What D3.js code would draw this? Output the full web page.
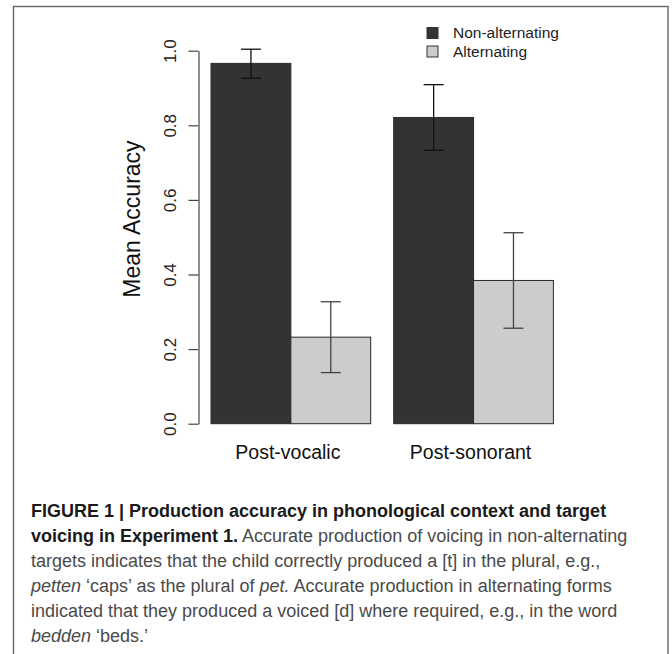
<!DOCTYPE html>
<html>
<head>
<meta charset="utf-8">
<script src="https://cdn.jsdelivr.net/npm/d3@7"></script>
<style>
  body { margin: 0; background: #fff; }
  svg text { font-family: "Liberation Sans", Arial, Helvetica, sans-serif; }
</style>
</head>
<body>
<div id="chart"></div>
<script>

// data
const categories = ["Post-vocalic", "Post-sonorant"];
const series = ["Non-alternating", "Alternating"];
const nonAlternating = [0.966, 0.821];
const alternating = [0.232, 0.384];
const nonAltLower = [0.926, 0.733];
const nonAltUpper = [1.004, 0.909];
const altLower = [0.137, 0.256];
const altUpper = [0.327, 0.512];
const yTicks = [0, 0.2, 0.4, 0.6, 0.8, 1.0];

const captionLines = [
    [{ t: "FIGURE 1 | Production accuracy in phonological context and target", s: "b" }],
    [{ t: "voicing in Experiment 1.", s: "b" }, { t: " Accurate production of voicing in non-alternating", s: "n" }],
    [{ t: "targets indicates that the child correctly produced a [t] in the plural, e.g.,", s: "n" }],
    [{ t: "petten", s: "i" }, { t: " \u2018caps\u2019 as the plural of ", s: "n" }, { t: "pet.", s: "i" }, { t: " Accurate production in alternating forms", s: "n" }],
    [{ t: "indicated that they produced a voiced [d] where required, e.g., in the word", s: "n" }],
    [{ t: "bedden", s: "i" }, { t: " \u2018beds.\u2019", s: "n" }]
];

function drawChart() {

    const dimensions = { width: 672, height: 654 };

    const svg = d3.select("#chart")
        .append("svg")
        .attr("width", dimensions.width)
        .attr("height", dimensions.height);

    // frame round figure + caption (open at bottom)
    svg.append("rect")
        .attr("x", 13.5)
        .attr("y", 6.5)
        .attr("width", 654.5)
        .attr("height", 670)
        .attr("fill", "none")
        .attr("stroke", "#666")
        .attr("stroke-width", 1.4);

    // scales
    const y = d3.scaleLinear()
        .domain([0, 1])
        .range([423.7, 50.7]);

    const x0 = d3.scaleBand()
        .domain(categories)
        .range([211, 553.4])
        .paddingInner(0.126);

    const x1 = d3.scaleBand()
        .domain(series)
        .range([0, x0.bandwidth()]);

    const color = d3.scaleOrdinal()
        .domain(series)
        .range(["#333333", "#cccccc"]);

    const rows = [];
    categories.forEach((c, i) => {
        rows.push({ cat: c, ser: series[0], v: nonAlternating[i], lo: nonAltLower[i], hi: nonAltUpper[i] });
        rows.push({ cat: c, ser: series[1], v: alternating[i], lo: altLower[i], hi: altUpper[i] });
    });

    // bars
    svg.append("g")
        .selectAll("rect")
        .data(rows)
        .join("rect")
        .attr("x", d => x0(d.cat) + x1(d.ser))
        .attr("y", d => y(d.v))
        .attr("width", x1.bandwidth())
        .attr("height", d => y(0) - y(d.v))
        .attr("fill", d => color(d.ser))
        .attr("stroke", "#2a2a2a")
        .attr("stroke-width", 1);

    // error bars
    const capHalf = 10;
    const err = svg.append("g")
        .selectAll("g")
        .data(rows)
        .join("g")
        .attr("stroke", d => d.ser === series[0] ? "#111" : "#444")
        .attr("stroke-width", 1.3);

    const cx = d => x0(d.cat) + x1(d.ser) + x1.bandwidth() / 2;

    err.append("line")
        .attr("x1", cx).attr("x2", cx)
        .attr("y1", d => y(d.lo)).attr("y2", d => y(d.hi));
    err.append("line")
        .attr("x1", d => cx(d) - capHalf).attr("x2", d => cx(d) + capHalf)
        .attr("y1", d => y(d.hi)).attr("y2", d => y(d.hi));
    err.append("line")
        .attr("x1", d => cx(d) - capHalf).attr("x2", d => cx(d) + capHalf)
        .attr("y1", d => y(d.lo)).attr("y2", d => y(d.lo));

    // y axis, R style
    const yAxis = d3.axisLeft(y)
        .tickValues(yTicks)
        .tickSize(10)
        .tickSizeOuter(0)
        .tickFormat(d3.format(".1f"));

    const gy = svg.append("g")
        .attr("transform", "translate(198.5,0)")
        .call(yAxis);

    gy.select(".domain").attr("stroke", "#444").attr("stroke-width", 1.2);
    gy.selectAll(".tick line").attr("stroke", "#444").attr("stroke-width", 1.2);
    gy.selectAll(".tick text")
        .attr("x", null)
        .attr("dy", null)
        .attr("transform", "translate(-23,0) rotate(-90)")
        .attr("text-anchor", "middle")
        .attr("fill", "#222")
        .style("font-size", "17px");

    svg.append("text")
        .attr("transform", "translate(140,219) rotate(-90)")
        .attr("text-anchor", "middle")
        .attr("fill", "#111")
        .style("font-size", "23px")
        .text("Mean Accuracy");

    // category labels
    svg.append("g")
        .selectAll("text")
        .data(categories)
        .join("text")
        .attr("x", d => x0(d) + x0.bandwidth() / 2 - 3)
        .attr("y", 459)
        .attr("text-anchor", "middle")
        .attr("fill", "#111")
        .style("font-size", "19.5px")
        .text(d => d);

    // legend
    const legend = svg.append("g")
        .selectAll("g")
        .data(series)
        .join("g")
        .attr("transform", (d, i) => `translate(427, ${27.5 + i * 18.5})`);

    legend.append("rect")
        .attr("width", 11)
        .attr("height", 11)
        .attr("fill", d => color(d))
        .attr("stroke", "#333")
        .attr("stroke-width", 1);

    legend.append("text")
        .attr("x", 26)
        .attr("y", 10.5)
        .attr("fill", "#222")
        .style("font-size", "15.5px")
        .text(d => d);

    // caption
    const cap = svg.append("g");
    captionLines.forEach((parts, i) => {
        const line = cap.append("text")
            .attr("x", 31)
            .attr("y", 517 + i * 25)
            .style("font-size", "18px");
        parts.forEach(p => {
            line.append("tspan")
                .attr("font-weight", p.s === "b" ? "bold" : "normal")
                .attr("font-style", p.s === "i" ? "italic" : "normal")
                .attr("fill", p.s === "b" ? "#1a1a1a" : "#4a4a4a")
                .text(p.t);
        });
    });
}

drawChart();
</script>
</body>
</html>
